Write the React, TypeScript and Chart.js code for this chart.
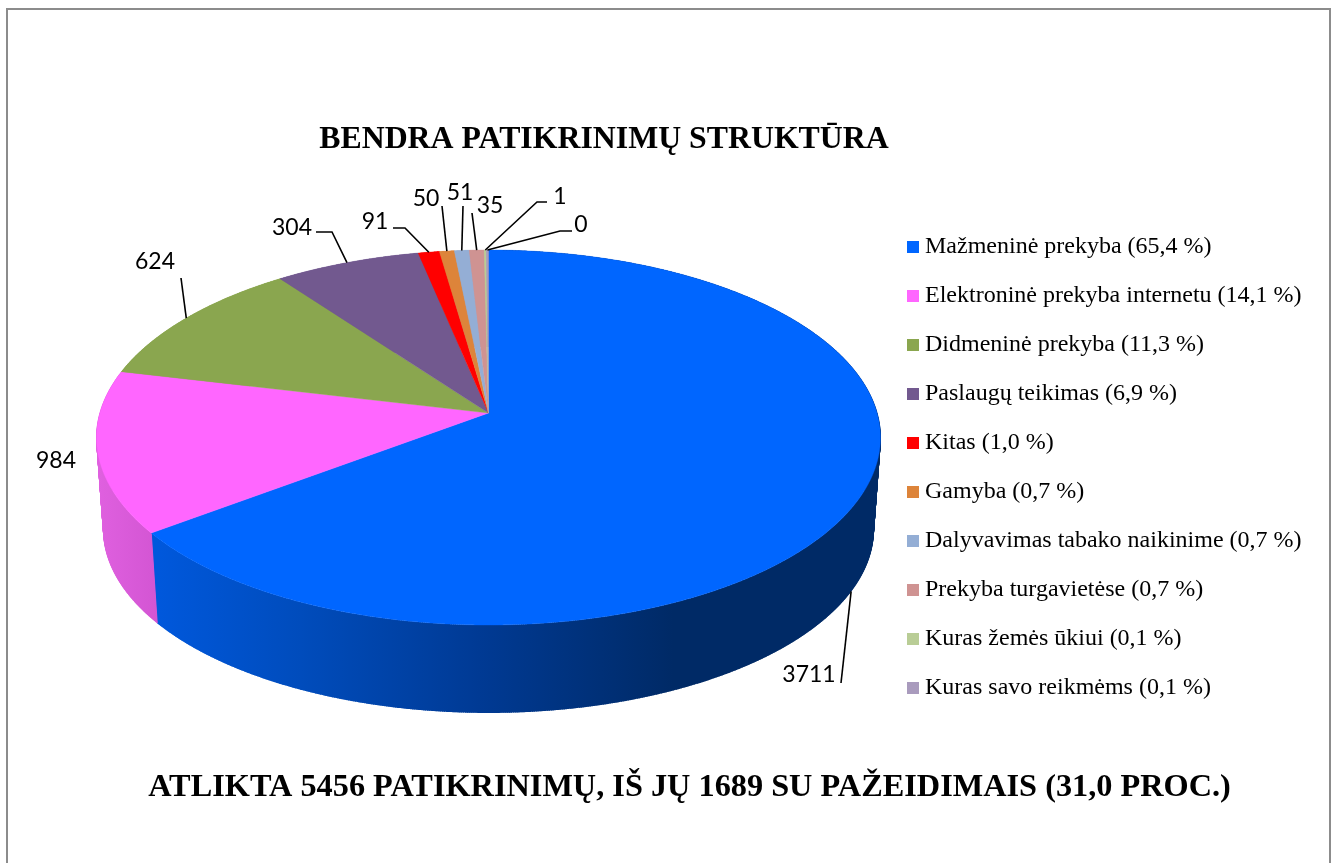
import React, { useEffect, useRef } from "react";
import { Chart, registerables } from "chart.js";

Chart.register(...registerables);

const categories = [
  "Mažmeninė prekyba (65,4 %)",
  "Elektroninė prekyba internetu (14,1 %)",
  "Didmeninė prekyba (11,3 %)",
  "Paslaugų teikimas (6,9 %)",
  "Kitas (1,0 %)",
  "Gamyba (0,7 %)",
  "Dalyvavimas tabako naikinime (0,7 %)",
  "Prekyba turgavietėse (0,7 %)",
  "Kuras žemės ūkiui (0,1 %)",
  "Kuras savo reikmėms (0,1 %)",
];
const shares = [65.4, 14.1, 11.3, 6.9, 1.0, 0.7, 0.7, 0.7, 0.1, 0.1];
const checkCounts = ["3711", "984", "624", "304", "91", "50", "51", "35", "1", "0"];
const colors = ["#0066ff", "#ff66ff", "#8aa64f", "#72598f", "#ff0000", "#dd843a", "#94aed5", "#cf9392", "#b9cd96", "#a99bbd"];
const titleText = "BENDRA PATIKRINIMŲ STRUKTŪRA";
const footerText = "ATLIKTA 5456 PATIKRINIMŲ, IŠ JŲ 1689 SU PAŽEIDIMAIS (31,0 PROC.)";

const SERIF = "'Liberation Serif'";
const P = -0.1307;
const TOP = { cx: 488.5, y0: 413, a: 388.6, b: 184.3 };
const BOTTOM = { cx: 488.5, y0: 506, a: 381.7, b: 179.9 };

// label centre, then the leader's bend points running toward the slice
const labelLayout: { at: [number, number]; bends: [number, number][]; onBottom?: boolean }[] = [
  { at: [809, 675], bends: [[841, 683]], onBottom: true },
  { at: [56, 461], bends: [] },
  { at: [155, 262], bends: [[181, 278]] },
  { at: [292, 228], bends: [[316, 232], [332, 232]] },
  { at: [375, 222], bends: [[393, 228], [405, 228]] },
  { at: [426, 199], bends: [[442, 206]] },
  { at: [460, 193], bends: [[463, 206]] },
  { at: [490, 206], bends: [[472, 213]] },
  { at: [560, 197], bends: [[547, 202], [537, 202]] },
  { at: [581, 225], bends: [[572, 231], [560, 231]] },
];

const wallStops: Record<number, [number, string][]> = {
  0: [[0, "#0058dc"], [0.2, "#004cbc"], [0.45, "#003a94"], [0.72, "#002a66"], [1, "#002a66"]],
  1: [[0, "#df60df"], [1, "#d254d2"]],
};
const wallSpan: Record<number, [number, number]> = { 0: [157, 874], 1: [98, 163] };

function project(e: typeof TOP, angle: number): [number, number] {
  const x = Math.cos(angle);
  const y = Math.sin(angle);
  const w = 1 + P * y;
  return [e.cx + (e.a * x) / w, e.y0 + (e.b * y) / w];
}

function squareIcon(color: string) {
  const c = document.createElement("canvas");
  c.width = 12;
  c.height = 12;
  const g = c.getContext("2d")!;
  g.fillStyle = color;
  g.fillRect(0, 0, 12, 12);
  return c;
}

const framePlugin = {
  id: "frame",
  beforeDraw(chart: any) {
    const g = chart.ctx;
    g.save();
    g.fillStyle = "#ffffff";
    g.fillRect(0, 0, chart.width, chart.height);
    g.fillStyle = "#8c8c8c";
    g.fillRect(6, 8, 1325, 2);
    g.fillRect(6, 8, 2, chart.height - 8);
    g.fillRect(1329, 8, 2, chart.height - 8);
    g.restore();
  },
};

const placePlugin = {
  id: "place",
  afterLayout(chart: any) {
    for (const box of chart.boxes) {
      const text = box.options?.text;
      if (text === titleText) {
        box.left = 604 - 400;
        box.right = 604 + 400;
        box.top = 121;
        box.bottom = 159;
      } else if (text === footerText) {
        box.left = 689.5 - 640;
        box.right = 689.5 + 640;
        box.top = 768;
        box.bottom = 806;
      } else if (box === chart.legend) {
        const w = box.width;
        box.left = 888;
        box.right = 888 + w;
        box.top = 467 - box.height / 2;
        box.bottom = 467 + box.height / 2;
      }
    }
  },
};

const pie3dPlugin = {
  id: "pie3d",
  beforeDatasetsDraw(chart: any) {
    const g: CanvasRenderingContext2D = chart.ctx;
    const arcs = chart.getDatasetMeta(0).data;
    const step = Math.PI / 720;
    g.save();
    // walls: ruled surface joining the rim of the top face to the rim of the base
    arcs.forEach((arc: any, i: number) => {
      const { startAngle: s, endAngle: e } = arc;
      let paint: string | CanvasGradient = colors[i];
      const stops = wallStops[i];
      if (stops) {
        const grad = g.createLinearGradient(wallSpan[i][0], 0, wallSpan[i][1], 0);
        stops.forEach(([o, c]) => grad.addColorStop(o, c));
        paint = grad;
      }
      g.beginPath();
      for (let t = s; t < e; t += step) g.lineTo(...project(TOP, t));
      g.lineTo(...project(TOP, e));
      for (let t = e; t > s; t -= step) g.lineTo(...project(BOTTOM, t));
      g.lineTo(...project(BOTTOM, s));
      g.closePath();
      g.fillStyle = paint;
      g.fill();
      g.beginPath();
      for (let t = s; t < e; t += step) {
        g.moveTo(...project(TOP, t));
        g.lineTo(...project(BOTTOM, t));
      }
      g.strokeStyle = paint;
      g.lineWidth = 1;
      g.stroke();
    });
    // top face
    arcs.forEach((arc: any, i: number) => {
      const { startAngle: s, endAngle: e } = arc;
      g.beginPath();
      g.moveTo(TOP.cx, TOP.y0);
      for (let t = s; t < e; t += step) g.lineTo(...project(TOP, t));
      g.lineTo(...project(TOP, e));
      g.closePath();
      g.fillStyle = colors[i];
      g.strokeStyle = colors[i];
      g.lineWidth = 0.4;
      g.fill();
      g.stroke();
    });
    // leaders and value labels
    g.font = "23px Lato";
    g.textAlign = "center";
    g.textBaseline = "middle";
    g.fillStyle = "#000000";
    g.strokeStyle = "#000000";
    g.lineWidth = 1.6;
    arcs.forEach((arc: any, i: number) => {
      const lay = labelLayout[i];
      const mid = (arc.startAngle + arc.endAngle) / 2;
      if (lay.bends.length) {
        g.beginPath();
        lay.bends.forEach(([x, y], k) => (k ? g.lineTo(x, y) : g.moveTo(x, y)));
        g.lineTo(...project(lay.onBottom ? BOTTOM : TOP, mid));
        g.stroke();
      }
      g.fillText(checkCounts[i], lay.at[0], lay.at[1]);
    });
    g.restore();
    return false;
  },
};

export default function App() {
  const ref = useRef<HTMLCanvasElement>(null);
  useEffect(() => {
    const chart = new Chart(ref.current!, {
      type: "pie",
      data: {
        labels: categories,
        datasets: [{ data: shares, backgroundColor: colors, borderWidth: 0 }],
      },
      options: {
        responsive: false,
        animation: false,
        events: [],
        layout: { padding: { top: 100, bottom: 50, left: 10, right: 5 } },
        plugins: {
          tooltip: { enabled: false },
          title: {
            display: true,
            text: titleText,
            color: "#000000",
            font: { family: SERIF, size: 31.8, weight: "bold" },
            padding: { top: 0, bottom: 0 },
          },
          subtitle: {
            display: true,
            text: footerText,
            position: "bottom",
            color: "#000000",
            font: { family: SERIF, size: 32.3, weight: "bold" },
            padding: { top: 0, bottom: 0 },
          },
          legend: {
            display: true,
            position: "right",
            labels: {
              color: "#000000",
              font: { family: SERIF, size: 24 },
              padding: 25,
              usePointStyle: true,
              pointStyleWidth: 0.01,
              generateLabels: () =>
                categories.map((text, i) => ({
                  text,
                  fillStyle: colors[i],
                  strokeStyle: colors[i],
                  lineWidth: 0,
                  hidden: false,
                  index: i,
                  pointStyle: squareIcon(colors[i]),
                })),
            },
          },
        },
      } as any,
      plugins: [framePlugin, placePlugin, pie3dPlugin] as any,
    });
    return () => chart.destroy();
  }, []);
  return (
    <div style={{ position: "fixed", left: 0, top: 0, width: 1335, height: 863, background: "#fff" }}>
      <canvas ref={ref} width={1335} height={863} style={{ display: "block" }} />
    </div>
  );
}
